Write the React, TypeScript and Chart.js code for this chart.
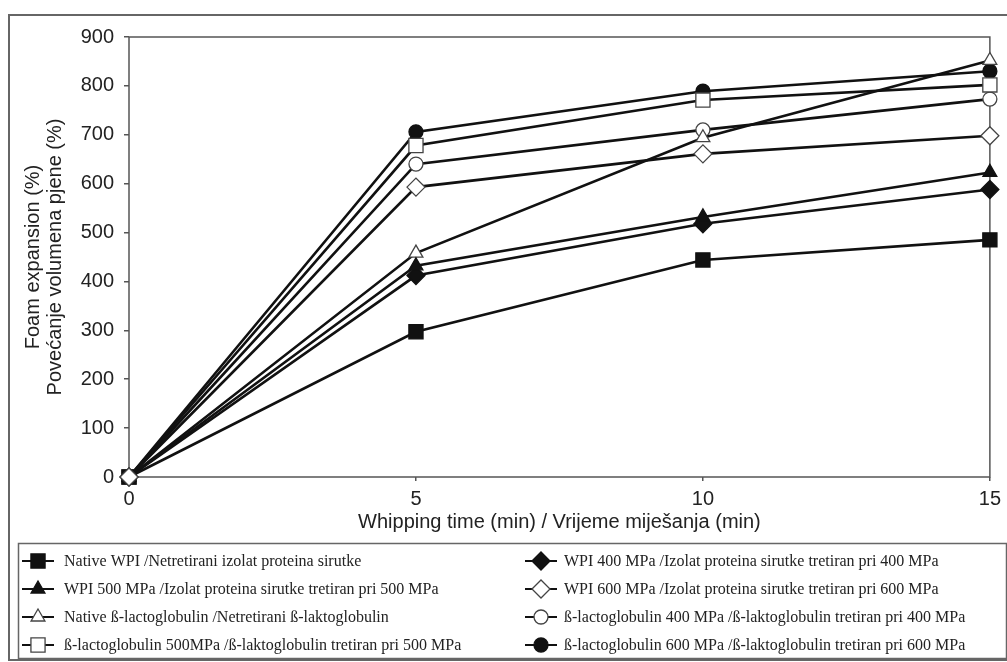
import React, { useEffect, useRef } from 'react';
import { Chart, registerables } from 'chart.js';

Chart.register(...registerables);

// ---- Data ----
const whippingTimes = [0, 5, 10, 15];

const nativeWPI = [0, 297, 444, 485];
const wpi500 = [0, 432, 532, 623];
const nativeBLG = [0, 458, 694, 852];
const blg500 = [0, 678, 771, 802];
const wpi400 = [0, 412, 518, 588];
const wpi600 = [0, 593, 661, 698];
const blg400 = [0, 640, 710, 773];
const blg600 = [0, 706, 789, 830];

const seriesLabels = [
  'Native WPI /Netretirani izolat proteina sirutke',
  'WPI 500 MPa /Izolat proteina sirutke tretiran pri 500 MPa',
  'Native ß-lactoglobulin /Netretirani ß-laktoglobulin',
  'ß-lactoglobulin 500MPa /ß-laktoglobulin tretiran pri 500 MPa',
  'WPI 400 MPa /Izolat proteina sirutke tretiran pri 400 MPa',
  'WPI 600 MPa /Izolat proteina sirutke tretiran pri 600 MPa',
  'ß-lactoglobulin 400 MPa /ß-laktoglobulin tretiran pri 400 MPa',
  'ß-lactoglobulin 600 MPa /ß-laktoglobulin tretiran pri 600 MPa',
];
const seriesValues = [nativeWPI, wpi500, nativeBLG, blg500, wpi400, wpi600, blg400, blg600];
const seriesStyles = ['rect', 'triangle', 'triangle', 'rect', 'rectRot', 'rectRot', 'circle', 'circle'];
const seriesFilled = [true, true, false, false, true, false, false, true];
const seriesRadius = [10, 8, 8, 10, 9, 9, 7, 7];
const seriesOrder = [0, 0, 0, 0, 0, -1, 0, 0];

const xAxisTitle = 'Whipping time (min) / Vrijeme miješanja (min)';
const yAxisTitle = ['Foam expansion (%)', 'Povećanje volumena pjene (%)'];

const LINE = '#111111';
const FRAME = '#555555';

function drawMarker(ctx: CanvasRenderingContext2D, style: string, x: number, y: number, r: number) {
  ctx.beginPath();
  if (style === 'circle') {
    ctx.arc(x, y, r, 0, Math.PI * 2);
  } else if (style === 'rect') {
    const s = r * Math.SQRT1_2;
    ctx.rect(x - s, y - s, 2 * s, 2 * s);
  } else if (style === 'rectRot') {
    ctx.moveTo(x - r, y);
    ctx.lineTo(x, y - r);
    ctx.lineTo(x + r, y);
    ctx.lineTo(x, y + r);
    ctx.closePath();
  } else if (style === 'triangle') {
    ctx.moveTo(x, y - r);
    ctx.lineTo(x + Math.sin((2 * Math.PI) / 3) * r, y - Math.cos((2 * Math.PI) / 3) * r);
    ctx.lineTo(x + Math.sin((4 * Math.PI) / 3) * r, y - Math.cos((4 * Math.PI) / 3) * r);
    ctx.closePath();
  }
  ctx.fill();
  ctx.stroke();
}

const framePlugin = {
  id: 'frameAndLegend',
  beforeDraw(chart: any) {
    const ctx = chart.ctx as CanvasRenderingContext2D;
    ctx.save();
    ctx.fillStyle = '#ffffff';
    ctx.fillRect(0, 0, chart.width, chart.height);
    ctx.strokeStyle = '#666666';
    ctx.lineWidth = 2;
    ctx.strokeRect(9, 15, 1010, 645);
    ctx.lineWidth = 1.5;
    ctx.strokeRect(18.5, 543.5, 988, 115);
    ctx.restore();
  },
  beforeDatasetsDraw(chart: any) {
    const ctx = chart.ctx as CanvasRenderingContext2D;
    const a = chart.chartArea;
    ctx.save();
    ctx.strokeStyle = FRAME;
    ctx.lineWidth = 1.5;
    ctx.strokeRect(a.left, a.top, a.right - a.left, a.bottom - a.top);
    ctx.restore();
  },
  afterDraw(chart: any) {
    const ctx = chart.ctx as CanvasRenderingContext2D;
    ctx.save();
    ctx.font = "16px 'Liberation Serif', 'Times New Roman', serif";
    ctx.textBaseline = 'middle';
    ctx.textAlign = 'left';
    const colMarker = [38, 541];
    const colText = [64, 564];
    const rowY = [561, 589, 617, 645];
    chart.data.datasets.forEach((ds: any, i: number) => {
      const col = Math.floor(i / 4);
      const row = i % 4;
      const mx = colMarker[col];
      const y = rowY[row];
      ctx.strokeStyle = LINE;
      ctx.lineWidth = 2;
      ctx.beginPath();
      ctx.moveTo(mx - 16, y);
      ctx.lineTo(mx + 16, y);
      ctx.stroke();
      ctx.fillStyle = ds.pointBackgroundColor;
      ctx.strokeStyle = ds.pointBorderColor;
      ctx.lineWidth = 1.3;
      drawMarker(ctx, ds.pointStyle, mx, y, ds.pointRadius);
      ctx.fillStyle = '#222222';
      ctx.fillText(ds.label, colText[col], y + 1);
    });
    ctx.restore();
  },
};

export default function App() {
  const canvasRef = useRef<HTMLCanvasElement | null>(null);

  useEffect(() => {
    if (!canvasRef.current) return;
    const datasets = seriesValues.map((vals, i) => ({
      label: seriesLabels[i],
      data: vals.map((v, j) => ({ x: whippingTimes[j], y: v })),
      borderColor: LINE,
      borderWidth: 2.6,
      backgroundColor: seriesFilled[i] ? LINE : '#ffffff',
      pointStyle: seriesStyles[i],
      pointRadius: seriesRadius[i],
      pointHoverRadius: seriesRadius[i],
      pointBackgroundColor: seriesFilled[i] ? LINE : '#ffffff',
      pointBorderColor: seriesFilled[i] ? LINE : '#444444',
      pointBorderWidth: 1.3,
      tension: 0,
      fill: false,
      order: seriesOrder[i],
      clip: false as any,
    }));

    const tickFont = { family: "'Liberation Sans', Arial, sans-serif", size: 20 };

    const chart = new Chart(canvasRef.current, {
      type: 'line',
      data: { datasets },
      plugins: [framePlugin],
      options: {
        responsive: false,
        animation: false,
        devicePixelRatio: 1,
        layout: { padding: { left: 18, top: 37, right: 14, bottom: 124 } },
        plugins: {
          legend: { display: false },
          tooltip: { enabled: false },
        },
        scales: {
          x: {
            type: 'linear',
            min: 0,
            max: 15,
            ticks: { stepSize: 5, color: '#222', font: tickFont, padding: 6 },
            grid: { display: true, drawOnChartArea: false, drawTicks: true, tickLength: 4, color: FRAME, lineWidth: 1.5 },
            border: { display: false },
            title: {
              display: true,
              text: xAxisTitle,
              color: '#222',
              font: { family: "'Liberation Sans', Arial, sans-serif", size: 20, lineHeight: 1.2 },
              padding: { top: 0, bottom: 4 },
            },
            afterFit: (s: any) => { s.height = 61; },
          },
          y: {
            type: 'linear',
            min: 0,
            max: 900,
            ticks: { stepSize: 100, color: '#222', font: tickFont, padding: 10 },
            grid: { display: true, drawOnChartArea: false, drawTicks: true, tickLength: 5, color: FRAME, lineWidth: 1.5 },
            border: { display: false },
            title: {
              display: true,
              text: yAxisTitle,
              color: '#222',
              font: { family: "'Liberation Sans', Arial, sans-serif", size: 20, lineHeight: 1.1 },
              padding: { top: 4, bottom: 4 },
            },
            afterFit: (s: any) => { s.width = 111; },
          },
        },
      } as any,
    });
    return () => chart.destroy();
  }, []);

  return (
    <div style={{ position: 'absolute', left: 0, top: 0, width: 1007, height: 662, background: '#fff' }}>
      <canvas ref={canvasRef} width={1007} height={662} style={{ display: 'block', width: 1007, height: 662 }} />
    </div>
  );
}
